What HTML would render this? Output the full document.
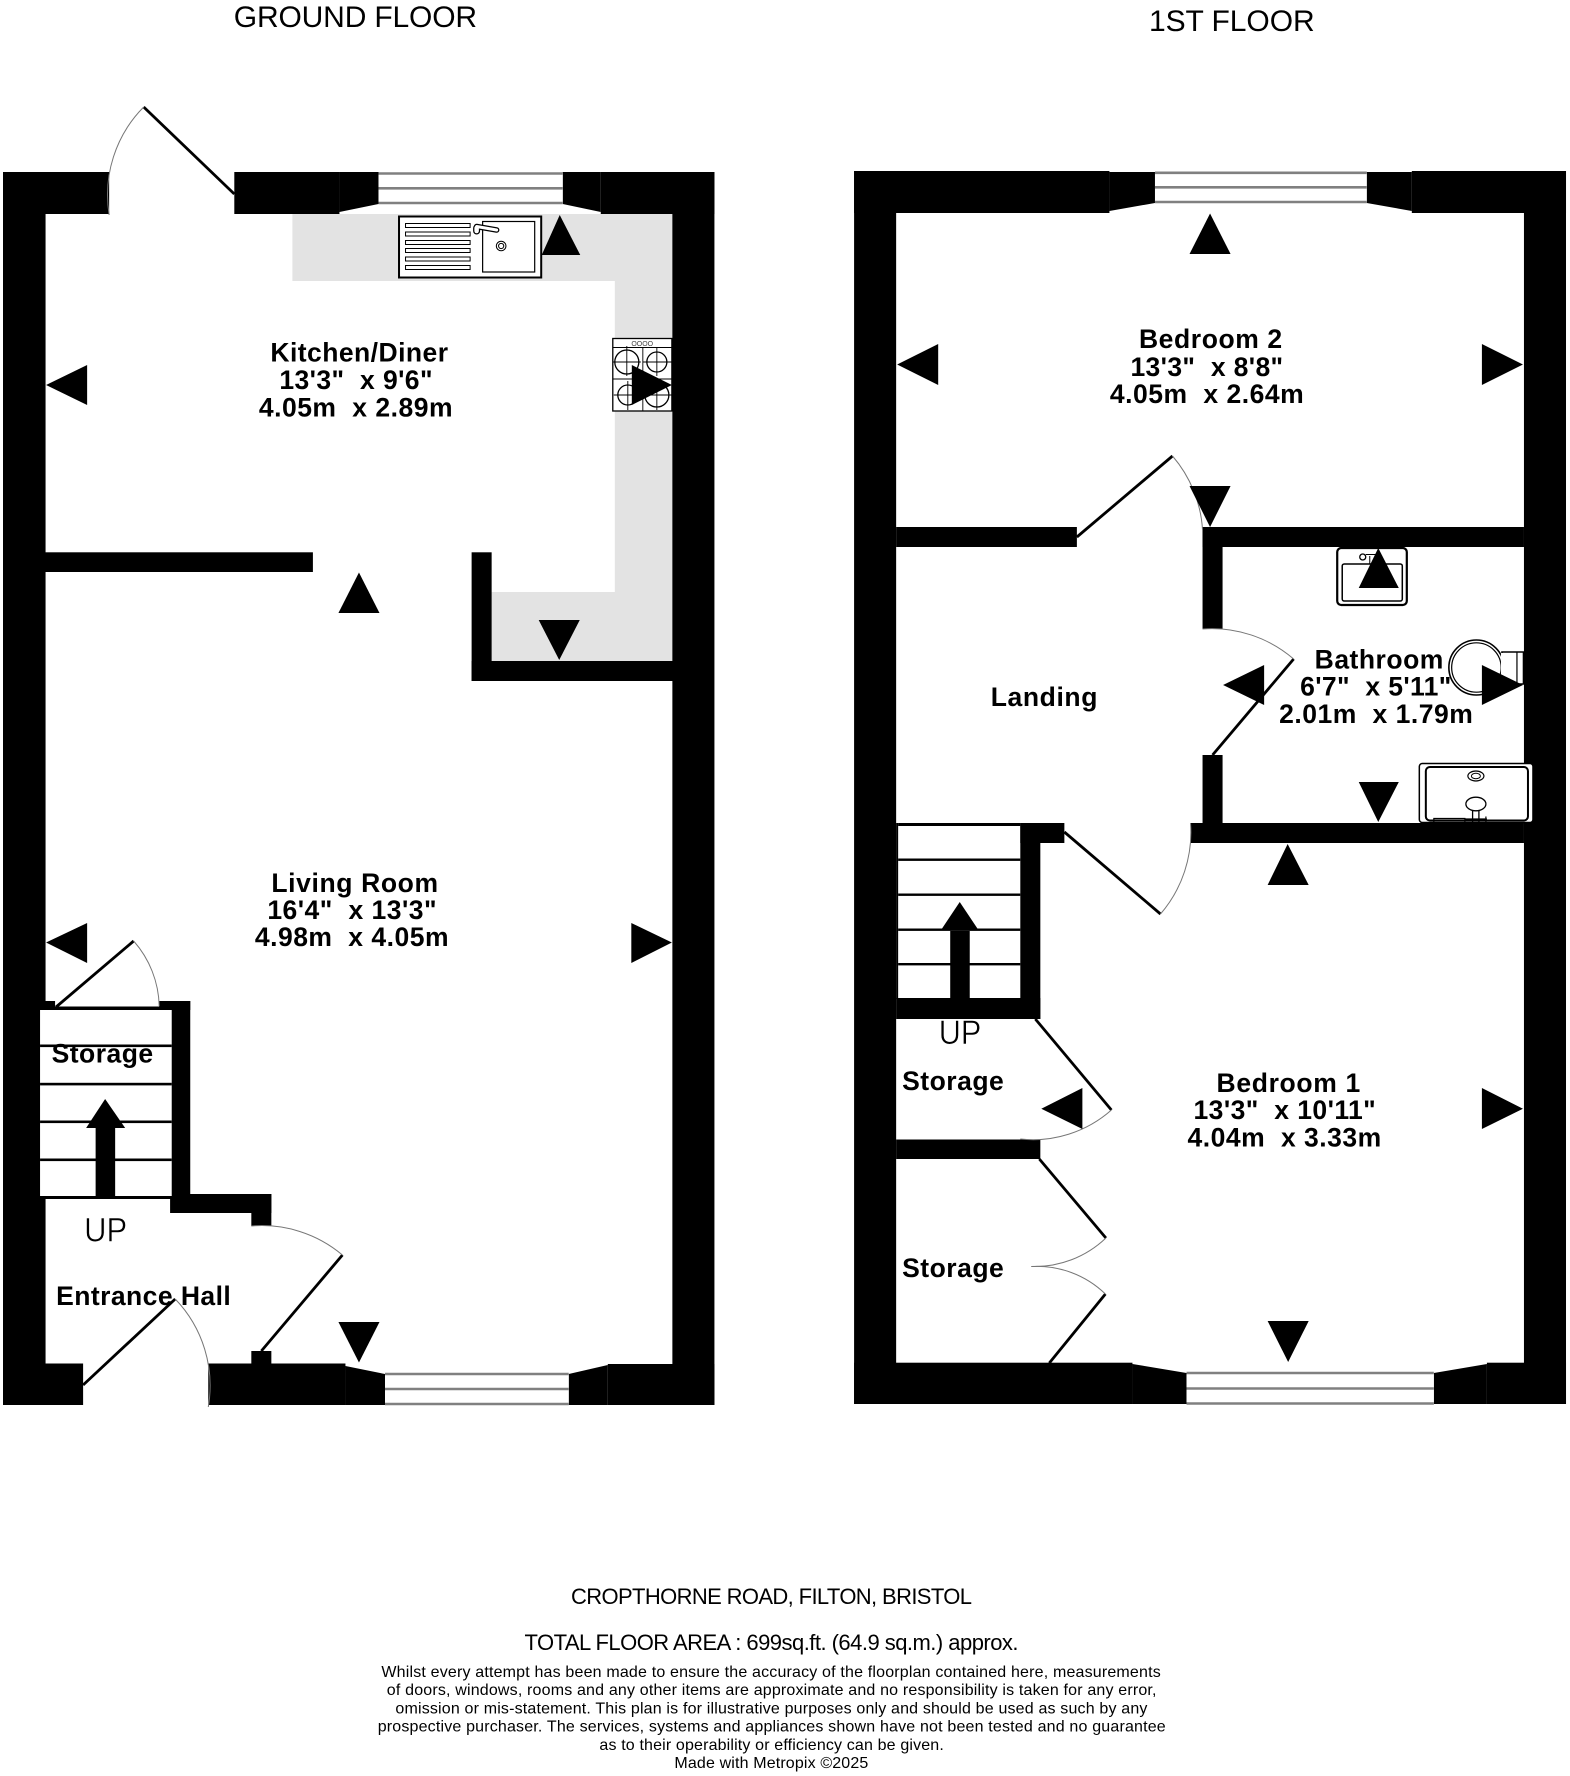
<!DOCTYPE html>
<html>
<head>
<meta charset="utf-8">
<style>
html,body{margin:0;padding:0;background:#fff}
svg{display:block}
text{font-family:"Liberation Sans",sans-serif;fill:#000;white-space:pre}
.b{font-weight:bold;font-size:26.5px}
.r{font-size:30px}
.up{font-size:34px;stroke:#fff;stroke-width:0.55px;paint-order:normal}
.c{font-size:22px}
.t{font-size:22px}
.s{font-size:16px}
</style>
</head>
<body>
<svg width="1570" height="1776" viewBox="0 0 1570 1776" xmlns="http://www.w3.org/2000/svg">
<rect width="1570" height="1776" fill="#fff"/>

<g transform="scale(1.0013 1)">
<!-- Ground floor: worktop -->
<path d="M292 214H672V661H491V592H614V281H292Z" fill="#e3e3e3"/>

<!-- Ground floor walls -->
<g fill="#000">
<rect x="3" y="172" width="42.500" height="1233"/>
<rect x="3" y="172" width="106" height="42"/>
<rect x="234" y="172" width="105" height="42"/>
<rect x="600" y="172" width="113.500" height="42"/>
<rect x="671.500" y="172" width="42" height="1233"/>
<polygon points="339,172 378,172 378,204 339,212"/>
<polygon points="562,172 600,172 600,212 562,204"/>
<rect x="45" y="552.300" width="267.500" height="19.700"/>
<rect x="471" y="552.300" width="20" height="128.700"/>
<rect x="471" y="661" width="201" height="20"/>
<rect x="3" y="1363.500" width="80" height="41.500"/>
<rect x="208" y="1363.500" width="137" height="41.500"/>
<rect x="607" y="1364" width="106.500" height="41"/>
<rect x="251" y="1351" width="20" height="14"/>
<polygon points="345,1366 384.500,1374 384.500,1405 345,1405"/>
<polygon points="568,1374 607,1365 607,1405 568,1405"/>
<rect x="170" y="1001" width="20" height="212"/>
<rect x="159" y="1001" width="31" height="9"/>
<rect x="170" y="1194" width="101" height="19"/>
<rect x="251" y="1194" width="20" height="32"/>
<rect x="40" y="1001" width="15" height="9"/>
<rect x="40" y="1006.500" width="132" height="3.500"/>
</g>
<!-- Ground floor stairs -->
<rect x="40" y="1010" width="131.500" height="186" fill="#fff"/>
<g fill="#000">
<rect x="40" y="1044.500" width="131.500" height="2.600"/>
<rect x="40" y="1082.800" width="131.500" height="2.600"/>
<rect x="40" y="1120.500" width="131.500" height="2.600"/>
<rect x="40" y="1158.500" width="131.500" height="2.600"/>
<rect x="40" y="1196" width="131.500" height="3"/>
<rect x="95.500" y="1128" width="19.500" height="69"/>
<polygon points="105,1099 125,1128 86,1128"/>
</g>

<!-- Windows ground -->
<g fill="#fff">
<rect x="378" y="173" width="184" height="31"/>
<rect x="384.500" y="1374" width="183.500" height="30"/>
</g>
<g stroke="#808080" stroke-width="2.600" fill="none">
<path d="M378 173.500H562M378 188.300H562M378 203H562"/>
<path d="M384.500 1374H568M384.500 1389H568M384.500 1404H568"/>
</g>

<!-- Ground doors -->
<g stroke="#000" stroke-width="2.800" fill="none">
<path d="M234 194L143.500 107"/>
<path d="M56 1007L133.500 941"/>
<path d="M342 1255L261 1351"/>
<path d="M83 1385L175 1299"/>
</g>
<g stroke="#777" stroke-width="1" fill="none">
<path d="M143.500 107A125 125 0 0 0 109 215"/>
<path d="M133.500 941A102 102 0 0 1 159 1006"/>
<path d="M251 1226A125 125 0 0 1 342 1255"/>
<path d="M175 1299A125 125 0 0 1 208 1407"/>
</g>

<!-- Sink -->
<g fill="#fff" stroke="#000">
<rect x="398.500" y="216.500" width="142" height="61" stroke-width="2"/>
<rect x="482" y="221.500" width="52" height="50.500" stroke-width="1.200"/>
<rect x="405" y="223.500" width="64.500" height="4" stroke-width="1"/>
<rect x="405" y="232" width="64.500" height="4" stroke-width="1"/>
<rect x="405" y="240.500" width="64.500" height="4" stroke-width="1"/>
<rect x="405" y="248.500" width="64.500" height="4" stroke-width="1"/>
<rect x="405" y="257" width="64.500" height="4" stroke-width="1"/>
<rect x="405" y="265.500" width="64.500" height="4" stroke-width="1"/>
<circle cx="500.500" cy="246" r="4.800" stroke-width="1"/>
<circle cx="500.500" cy="246" r="2.600" stroke-width="1"/>
</g>
<path d="M476 226.500L496 230" stroke="#000" stroke-width="5.500" stroke-linecap="round" fill="none"/>
<path d="M476 228V231" stroke="#000" stroke-width="7" stroke-linecap="round" fill="none"/>
<path d="M476 226.500L496 230" stroke="#fff" stroke-width="3" stroke-linecap="round" fill="none"/>
<path d="M476 228V231" stroke="#fff" stroke-width="4.500" stroke-linecap="round" fill="none"/>

<!-- Hob -->
<g fill="#fff" stroke="#000">
<rect x="612" y="338.500" width="59" height="72.500" stroke-width="1.300"/>
<path d="M612 347.500H671" stroke-width="1" fill="none"/>
<circle cx="626" cy="362" r="12" stroke-width="1.300"/>
<circle cx="656" cy="362" r="10" stroke-width="1.300"/>
<circle cx="627" cy="395" r="10" stroke-width="1.300"/>
<circle cx="656" cy="395" r="12" stroke-width="1.300"/>
<path d="M642 347.500V411M612 379H671M626 346V376M612 362H640M656 348V376M642 362H671M627 381V410M613 395H641M656 381V410M642 395H671" stroke-width="0.900" fill="none"/>
</g>
<text x="630.500" y="346" style="font-size:7px;fill:#444">OOOO</text>

<!-- Ground triangles -->
<g fill="#000">
<polygon points="559,215 579.500,255 541,255"/>
<polygon points="46,385 87,365 87,405"/>
<polygon points="671,385 631,365 631,405"/>
<polygon points="358.500,572.500 379,613 338,613"/>
<polygon points="558.500,660 579,620 538,620"/>
<polygon points="46,942.500 87,923 87,963"/>
<polygon points="671,942.500 630.500,923 630.500,963"/>
<polygon points="358.500,1362.500 379,1322 338,1322"/>
</g>

<text class="r" x="233.500" y="27" textLength="243">GROUND FLOOR</text>
<text class="b" x="270" y="361.500" textLength="177.500">Kitchen/Diner</text>
<text class="b" x="279" y="389" textLength="153">13'3"  x 9'6"</text>
<text class="b" x="258.500" y="416.500" textLength="193.500">4.05m  x 2.89m</text>

<text class="b" x="271" y="892" textLength="166.500">Living Room</text>
<text class="b" x="267" y="919" textLength="169">16'4"  x 13'3"</text>
<text class="b" x="254.500" y="946" textLength="193.500">4.98m  x 4.05m</text>

<text class="b" x="51.500" y="1062.700" textLength="101.500">Storage</text>
<text class="up" x="84" y="1241.700" textLength="43" lengthAdjust="spacingAndGlyphs">UP</text>
<text class="b" x="56" y="1305" textLength="174.500">Entrance Hall</text>
</g>

<g transform="translate(785 0) scale(1.0013 1) translate(-785 0)">
<!-- 1st floor walls -->
<g fill="#000">
<rect x="854" y="171" width="42" height="1233"/>
<rect x="854" y="171" width="255" height="42"/>
<rect x="1411" y="171" width="154" height="42"/>
<rect x="1523" y="171" width="42" height="1233"/>
<polygon points="1109,172 1154.500,172 1154.500,203 1109,211"/>
<polygon points="1366,172 1411,172 1411,211 1366,203"/>
<rect x="896" y="527" width="180.500" height="20"/>
<rect x="1202" y="527" width="321" height="20"/>
<rect x="1202" y="527" width="20" height="102"/>
<rect x="1202" y="755" width="20" height="68"/>
<rect x="1190" y="823" width="333" height="20"/>
<rect x="1020" y="823" width="44" height="20"/>
<rect x="1020" y="823" width="20" height="196"/>
<rect x="896" y="998" width="144" height="21"/>
<rect x="896" y="1139.500" width="144" height="19.500"/>
<rect x="854" y="1362.700" width="278" height="41.300"/>
<rect x="1486" y="1362.700" width="79" height="41.300"/>
<polygon points="1132,1364 1186,1373 1186,1404 1132,1404"/>
<polygon points="1433,1373 1486,1364 1486,1404 1433,1404"/>
</g>
<!-- 1st floor stairs -->
<rect x="896" y="823" width="2" height="176" fill="#000"/>
<g fill="#000">
<rect x="898" y="823" width="122" height="3"/>
<rect x="898" y="858.500" width="122" height="2.400"/>
<rect x="898" y="893.500" width="122" height="2.400"/>
<rect x="898" y="928.500" width="122" height="2.400"/>
<rect x="898" y="963" width="122" height="2.400"/>
<rect x="950" y="931" width="19.500" height="68"/>
<polygon points="959.500,902 977.500,929 941.500,929"/>
</g>

<!-- Windows 1st -->
<g fill="#fff">
<rect x="1154.500" y="173" width="211.500" height="29"/>
<rect x="1186" y="1373" width="247" height="30"/>
</g>
<g stroke="#808080" stroke-width="2.600" fill="none">
<path d="M1154.500 172.800H1366M1154.500 187.300H1366M1154.500 202H1366"/>
<path d="M1186 1373H1433M1186 1388.500H1433M1186 1403.500H1433"/>
</g>

<!-- 1st doors -->
<g stroke="#000" stroke-width="2.800" fill="none">
<path d="M1076.500 537L1172 456"/>
<path d="M1293 659L1212 755"/>
<path d="M1160 914L1064 832"/>
<path d="M1035 1019L1111 1110"/>
<path d="M1039 1159L1105.500 1238"/>
<path d="M1105 1294L1049 1363"/>
</g>
<g stroke="#777" stroke-width="1" fill="none">
<path d="M1172 456A125 125 0 0 1 1202 530"/>
<path d="M1202 629A125 125 0 0 1 1293 659"/>
<path d="M1190 823A125 125 0 0 1 1160 914"/>
<path d="M1111 1110A118 118 0 0 1 1020 1139"/>
<path d="M1105.500 1238A103 103 0 0 1 1031 1266.500"/>
<path d="M1031 1266.500A98 98 0 0 1 1105 1294"/>
</g>

<!-- Basin -->
<g fill="#fff" stroke="#000">
<rect x="1336.500" y="548" width="69.500" height="57" rx="4" stroke-width="2.200"/>
<rect x="1341.500" y="564" width="60" height="37" rx="2" stroke-width="1.500"/>
<circle cx="1362" cy="557" r="3" stroke-width="1.300"/>
<path d="M1365 554.500H1377M1369 556V564" stroke-width="1" fill="none"/>
</g>
<!-- Toilet -->
<g fill="#fff" stroke="#000">
<path d="M1501 652H1522.500V684H1501Z" stroke-width="1.500"/>
<path d="M1516 652V684" stroke-width="1.200" fill="none"/>
<circle cx="1475.500" cy="667.500" r="27.500" stroke-width="1.600"/>
<circle cx="1475.500" cy="667.500" r="24.700" stroke-width="1.200"/>
<rect x="1500" y="653" width="8" height="30" fill="#fff" stroke="none"/>
</g>
<!-- Wash basin bottom -->
<g fill="#fff" stroke="#000">
<rect x="1418.500" y="763.500" width="113.500" height="59" rx="3" stroke-width="1.500"/>
<rect x="1425" y="767" width="102" height="53.500" rx="4" stroke-width="2"/>
<ellipse cx="1475" cy="776" rx="8" ry="5" stroke-width="1.200"/>
<ellipse cx="1475" cy="776" rx="4.500" ry="2.800" stroke-width="1"/>
<ellipse cx="1475" cy="804" rx="10" ry="6.800" stroke-width="1.300"/>
<path d="M1471.700 811V822M1478 811V822" stroke-width="1.300" fill="none"/>
<path d="M1433 822V818.500H1464V822" stroke-width="1.200" fill="none"/>
<path d="M1485 816.500V822M1464 819H1486" stroke-width="1.200" fill="none"/>
</g>

<!-- 1st floor triangles -->
<g fill="#000">
<polygon points="1209.500,213.500 1230,254 1189,254"/>
<polygon points="897,364.500 938,344 938,385"/>
<polygon points="1522,364.500 1481,344 1481,385"/>
<polygon points="1209.500,527 1230,486 1189,486"/>
<polygon points="1377.500,548 1398,588 1358,588"/>
<polygon points="1222.500,685 1263.500,665 1263.500,705"/>
<polygon points="1522,685 1481,665 1481,705"/>
<polygon points="1377.500,822 1398,782 1358,782"/>
<polygon points="1287,844 1308,885 1267,885"/>
<polygon points="1041,1108.700 1082,1088 1082,1129"/>
<polygon points="1522,1108.700 1481,1088 1481,1129"/>
<polygon points="1287.500,1362 1308,1321 1267,1321"/>
</g>

<text class="r" x="1148.500" y="31" textLength="165.500">1ST FLOOR</text>

<text class="b" x="1138.500" y="348" textLength="143">Bedroom 2</text>
<text class="b" x="1130" y="376" textLength="152.500">13'3"  x 8'8"</text>
<text class="b" x="1109.500" y="403" textLength="193.500">4.05m  x 2.64m</text>

<text class="b" x="990.500" y="706" textLength="106.500">Landing</text>

<text class="b" x="1314" y="668.500" textLength="128.500">Bathroom</text>
<text class="b" x="1299.500" y="695.700" textLength="151">6'7"  x 5'11"</text>
<text class="b" x="1278.500" y="723" textLength="193.500">2.01m  x 1.79m</text>

<text class="up" x="938.500" y="1044" textLength="42.500" lengthAdjust="spacingAndGlyphs">UP</text>
<text class="b" x="902" y="1090" textLength="101.500">Storage</text>
<text class="b" x="902" y="1277" textLength="101.500">Storage</text>

<text class="b" x="1216" y="1092" textLength="143.500">Bedroom 1</text>
<text class="b" x="1193" y="1119" textLength="182">13'3"  x 10'11"</text>
<text class="b" x="1187" y="1146.700" textLength="193.500">4.04m  x 3.33m</text>
</g>

<!-- Footer -->
<text class="c" x="571" y="1604" textLength="401">CROPTHORNE ROAD, FILTON, BRISTOL</text>
<text class="t" x="524.500" y="1650" textLength="494">TOTAL FLOOR AREA : 699sq.ft. (64.9 sq.m.) approx.</text>
<text class="s" x="381.400" y="1677" textLength="779.300">Whilst every attempt has been made to ensure the accuracy of the floorplan contained here, measurements</text>
<text class="s" x="386.800" y="1695" textLength="769.700">of doors, windows, rooms and any other items are approximate and no responsibility is taken for any error,</text>
<text class="s" x="395.400" y="1713.300" textLength="752">omission or mis-statement. This plan is for illustrative purposes only and should be used as such by any</text>
<text class="s" x="377.700" y="1731.700" textLength="788">prospective purchaser. The services, systems and appliances shown have not been tested and no guarantee</text>
<text class="s" x="599.400" y="1750" textLength="344.400">as to their operability or efficiency can be given.</text>
<text class="s" x="674.400" y="1768" textLength="193.900">Made with Metropix ©2025</text>
</svg>
</body>
</html>
